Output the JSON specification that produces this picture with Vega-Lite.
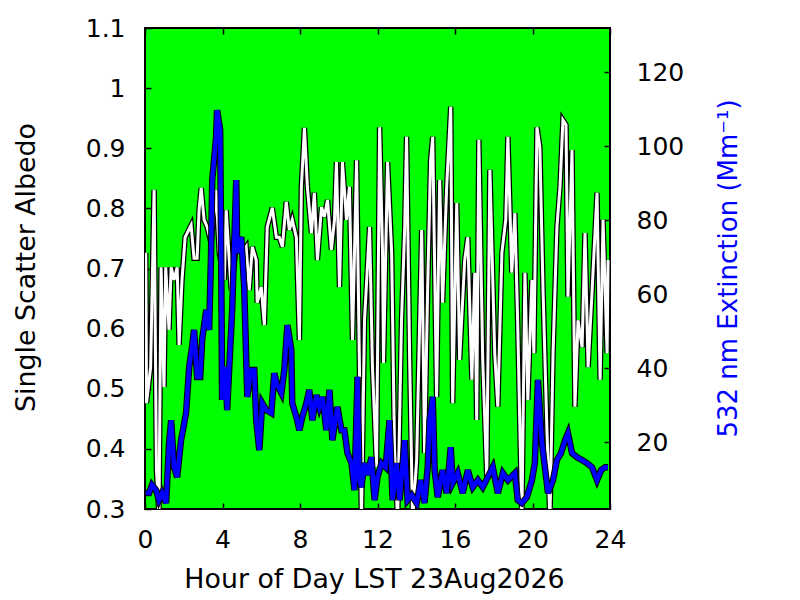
{
  "$schema": "https://vega.github.io/schema/vega-lite/v6.json",
  "autosize": "none",
  "width": 465,
  "height": 481,
  "padding": {"left": 145, "top": 28, "right": 190, "bottom": 91},
  "background": "white",
  "config": {
    "font": "DejaVu Sans",
    "view": {"fill": "#00ff00", "stroke": "black", "strokeWidth": 2},
    "axis": {
      "grid": false,
      "domain": false,
      "tickColor": "black",
      "tickWidth": 1.5,
      "tickSize": -6,
      "labelFont": "DejaVu Sans",
      "labelFontSize": 25,
      "labelColor": "black",
      "titleFont": "DejaVu Sans",
      "titleFontSize": 26.8,
      "titleFontWeight": "normal",
      "titleColor": "black"
    }
  },
  "datasets": {
    "alb": [
      {"hour": 0.04, "albedo": 0.726}, {"hour": 0.08, "albedo": 0.476}, {"hour": 0.29, "albedo": 0.536},
      {"hour": 0.47, "albedo": 0.831}, {"hour": 0.59, "albedo": 0.365}, {"hour": 0.72, "albedo": 0.29},
      {"hour": 0.83, "albedo": 0.702}, {"hour": 0.98, "albedo": 0.503}, {"hour": 1.07, "albedo": 0.702},
      {"hour": 1.24, "albedo": 0.598}, {"hour": 1.35, "albedo": 0.702}, {"hour": 1.5, "albedo": 0.681},
      {"hour": 1.66, "albedo": 0.702}, {"hour": 1.76, "albedo": 0.573}, {"hour": 1.91, "albedo": 0.681},
      {"hour": 2.07, "albedo": 0.752}, {"hour": 2.38, "albedo": 0.772}, {"hour": 2.53, "albedo": 0.717},
      {"hour": 2.69, "albedo": 0.717}, {"hour": 2.79, "albedo": 0.797}, {"hour": 2.9, "albedo": 0.834},
      {"hour": 3.05, "albedo": 0.781}, {"hour": 3.21, "albedo": 0.769}, {"hour": 3.41, "albedo": 0.742},
      {"hour": 3.67, "albedo": 0.831}, {"hour": 3.83, "albedo": 0.726}, {"hour": 4.09, "albedo": 0.681},
      {"hour": 4.19, "albedo": 0.797}, {"hour": 4.35, "albedo": 0.714}, {"hour": 4.45, "albedo": 0.664},
      {"hour": 4.71, "albedo": 0.736}, {"hour": 4.86, "albedo": 0.752}, {"hour": 5.02, "albedo": 0.726},
      {"hour": 5.22, "albedo": 0.736}, {"hour": 5.38, "albedo": 0.664}, {"hour": 5.54, "albedo": 0.736},
      {"hour": 5.74, "albedo": 0.714}, {"hour": 5.79, "albedo": 0.643}, {"hour": 6.0, "albedo": 0.669},
      {"hour": 6.16, "albedo": 0.606}, {"hour": 6.31, "albedo": 0.769}, {"hour": 6.57, "albedo": 0.801},
      {"hour": 6.78, "albedo": 0.752}, {"hour": 6.93, "albedo": 0.752}, {"hour": 7.09, "albedo": 0.736},
      {"hour": 7.29, "albedo": 0.811}, {"hour": 7.45, "albedo": 0.764}, {"hour": 7.6, "albedo": 0.781},
      {"hour": 7.81, "albedo": 0.752}, {"hour": 7.97, "albedo": 0.581}, {"hour": 8.07, "albedo": 0.836},
      {"hour": 8.23, "albedo": 0.934}, {"hour": 8.38, "albedo": 0.836}, {"hour": 8.59, "albedo": 0.759},
      {"hour": 8.74, "albedo": 0.826}, {"hour": 8.9, "albedo": 0.714}, {"hour": 9.11, "albedo": 0.802},
      {"hour": 9.26, "albedo": 0.786}, {"hour": 9.42, "albedo": 0.814}, {"hour": 9.62, "albedo": 0.731},
      {"hour": 9.78, "albedo": 0.781}, {"hour": 9.88, "albedo": 0.877}, {"hour": 10.04, "albedo": 0.669},
      {"hour": 10.19, "albedo": 0.877}, {"hour": 10.4, "albedo": 0.781}, {"hour": 10.55, "albedo": 0.836},
      {"hour": 10.71, "albedo": 0.581}, {"hour": 10.92, "albedo": 0.88}, {"hour": 11.07, "albedo": 0.531},
      {"hour": 11.17, "albedo": 0.28}, {"hour": 11.33, "albedo": 0.614}, {"hour": 11.59, "albedo": 0.769},
      {"hour": 11.74, "albedo": 0.536}, {"hour": 11.95, "albedo": 0.37}, {"hour": 12.11, "albedo": 0.935},
      {"hour": 12.26, "albedo": 0.726}, {"hour": 12.31, "albedo": 0.543}, {"hour": 12.52, "albedo": 0.877},
      {"hour": 12.73, "albedo": 0.726}, {"hour": 12.88, "albedo": 0.398}, {"hour": 13.04, "albedo": 0.28},
      {"hour": 13.24, "albedo": 0.614}, {"hour": 13.4, "albedo": 0.764}, {"hour": 13.5, "albedo": 0.919},
      {"hour": 13.66, "albedo": 0.548}, {"hour": 13.81, "albedo": 0.28}, {"hour": 14.02, "albedo": 0.381},
      {"hour": 14.28, "albedo": 0.764}, {"hour": 14.43, "albedo": 0.393}, {"hour": 14.59, "albedo": 0.669},
      {"hour": 14.74, "albedo": 0.88}, {"hour": 14.85, "albedo": 0.919}, {"hour": 15.05, "albedo": 0.486},
      {"hour": 15.21, "albedo": 0.847}, {"hour": 15.36, "albedo": 0.643}, {"hour": 15.57, "albedo": 0.836},
      {"hour": 15.78, "albedo": 0.969}, {"hour": 15.88, "albedo": 0.476}, {"hour": 16.09, "albedo": 0.809},
      {"hour": 16.24, "albedo": 0.548}, {"hour": 16.5, "albedo": 0.714}, {"hour": 16.66, "albedo": 0.752},
      {"hour": 16.87, "albedo": 0.515}, {"hour": 17.02, "albedo": 0.693}, {"hour": 17.12, "albedo": 0.448},
      {"hour": 17.23, "albedo": 0.914}, {"hour": 17.43, "albedo": 0.548}, {"hour": 17.64, "albedo": 0.353},
      {"hour": 17.8, "albedo": 0.864}, {"hour": 18.05, "albedo": 0.559}, {"hour": 18.21, "albedo": 0.47},
      {"hour": 18.42, "albedo": 0.726}, {"hour": 18.62, "albedo": 0.781}, {"hour": 18.73, "albedo": 0.919},
      {"hour": 18.93, "albedo": 0.693}, {"hour": 19.09, "albedo": 0.792}, {"hour": 19.24, "albedo": 0.603},
      {"hour": 19.45, "albedo": 0.28}, {"hour": 19.61, "albedo": 0.693}, {"hour": 19.76, "albedo": 0.481},
      {"hour": 19.97, "albedo": 0.681}, {"hour": 20.07, "albedo": 0.559}, {"hour": 20.23, "albedo": 0.935},
      {"hour": 20.38, "albedo": 0.902}, {"hour": 20.54, "albedo": 0.669}, {"hour": 20.74, "albedo": 0.436},
      {"hour": 20.9, "albedo": 0.28}, {"hour": 21.06, "albedo": 0.559}, {"hour": 21.26, "albedo": 0.769},
      {"hour": 21.42, "albedo": 0.836}, {"hour": 21.57, "albedo": 0.947}, {"hour": 21.73, "albedo": 0.939},
      {"hour": 21.83, "albedo": 0.653}, {"hour": 22.04, "albedo": 0.897}, {"hour": 22.19, "albedo": 0.47},
      {"hour": 22.35, "albedo": 0.614}, {"hour": 22.56, "albedo": 0.569}, {"hour": 22.71, "albedo": 0.759},
      {"hour": 22.87, "albedo": 0.536}, {"hour": 23.07, "albedo": 0.659}, {"hour": 23.33, "albedo": 0.826},
      {"hour": 23.49, "albedo": 0.515}, {"hour": 23.64, "albedo": 0.781}, {"hour": 23.85, "albedo": 0.559},
      {"hour": 23.9, "albedo": 0.714}
    ],
    "ext": [
      {"hour": 0.05, "ext": 6.2}, {"hour": 0.21, "ext": 6.2}, {"hour": 0.36, "ext": 8.4}, {"hour": 0.57, "ext": 7.0},
      {"hour": 0.72, "ext": 4.3}, {"hour": 0.88, "ext": 6.2}, {"hour": 1.09, "ext": 3.5}, {"hour": 1.24, "ext": 19.7},
      {"hour": 1.35, "ext": 25.9}, {"hour": 1.5, "ext": 13.2}, {"hour": 1.66, "ext": 10.5}, {"hour": 1.86, "ext": 20.5},
      {"hour": 2.12, "ext": 27.8}, {"hour": 2.28, "ext": 40.3}, {"hour": 2.43, "ext": 45.7}, {"hour": 2.53, "ext": 50.3},
      {"hour": 2.69, "ext": 37.6}, {"hour": 2.85, "ext": 37.6}, {"hour": 2.95, "ext": 47.6}, {"hour": 3.16, "ext": 55.7},
      {"hour": 3.31, "ext": 50.3}, {"hour": 3.41, "ext": 71.1}, {"hour": 3.47, "ext": 90.8}, {"hour": 3.67, "ext": 102.4},
      {"hour": 3.72, "ext": 109.7}, {"hour": 3.88, "ext": 104.3}, {"hour": 3.93, "ext": 71.1}, {"hour": 3.98, "ext": 31.4},
      {"hour": 4.14, "ext": 40.3}, {"hour": 4.24, "ext": 28.6}, {"hour": 4.35, "ext": 40.3}, {"hour": 4.5, "ext": 55.7},
      {"hour": 4.71, "ext": 90.8}, {"hour": 4.76, "ext": 71.1}, {"hour": 4.97, "ext": 75.4}, {"hour": 5.12, "ext": 61.9},
      {"hour": 5.28, "ext": 32.2}, {"hour": 5.48, "ext": 39.5}, {"hour": 5.64, "ext": 39.5}, {"hour": 5.74, "ext": 25.9},
      {"hour": 5.9, "ext": 17.8}, {"hour": 6.05, "ext": 30.5}, {"hour": 6.26, "ext": 28.6}, {"hour": 6.52, "ext": 27.8},
      {"hour": 6.67, "ext": 38.6}, {"hour": 6.83, "ext": 35.4}, {"hour": 7.04, "ext": 33.2}, {"hour": 7.19, "ext": 39.5},
      {"hour": 7.35, "ext": 51.6}, {"hour": 7.55, "ext": 44.9}, {"hour": 7.6, "ext": 30.5}, {"hour": 7.81, "ext": 26.8},
      {"hour": 7.97, "ext": 23.2}, {"hour": 8.12, "ext": 26.8}, {"hour": 8.33, "ext": 30.5}, {"hour": 8.48, "ext": 34.1},
      {"hour": 8.64, "ext": 25.9}, {"hour": 8.85, "ext": 32.7}, {"hour": 9.0, "ext": 29.5}, {"hour": 9.16, "ext": 32.2},
      {"hour": 9.36, "ext": 23.2}, {"hour": 9.52, "ext": 34.1}, {"hour": 9.67, "ext": 20.5}, {"hour": 9.93, "ext": 29.5},
      {"hour": 10.14, "ext": 23.2}, {"hour": 10.29, "ext": 23.2}, {"hour": 10.45, "ext": 17.0}, {"hour": 10.66, "ext": 14.3},
      {"hour": 10.81, "ext": 7.0}, {"hour": 10.97, "ext": 37.6}, {"hour": 11.07, "ext": 9.7}, {"hour": 11.17, "ext": 7.8},
      {"hour": 11.33, "ext": 14.3}, {"hour": 11.48, "ext": 11.1}, {"hour": 11.69, "ext": 15.9}, {"hour": 11.85, "ext": 4.3},
      {"hour": 12.0, "ext": 10.5}, {"hour": 12.21, "ext": 14.3}, {"hour": 12.42, "ext": 13.2}, {"hour": 12.62, "ext": 25.9},
      {"hour": 12.78, "ext": 4.3}, {"hour": 12.98, "ext": 14.3}, {"hour": 13.14, "ext": 4.3}, {"hour": 13.4, "ext": 20.5},
      {"hour": 13.55, "ext": 4.3}, {"hour": 13.76, "ext": 5.7}, {"hour": 14.02, "ext": 3.5}, {"hour": 14.23, "ext": 9.7},
      {"hour": 14.43, "ext": 3.5}, {"hour": 14.59, "ext": 13.2}, {"hour": 14.69, "ext": 25.9}, {"hour": 14.85, "ext": 32.2},
      {"hour": 14.95, "ext": 12.4}, {"hour": 15.11, "ext": 5.1}, {"hour": 15.36, "ext": 12.4}, {"hour": 15.57, "ext": 6.2},
      {"hour": 15.78, "ext": 18.6}, {"hour": 15.88, "ext": 8.9}, {"hour": 16.14, "ext": 11.6}, {"hour": 16.4, "ext": 6.2},
      {"hour": 16.66, "ext": 12.4}, {"hour": 16.92, "ext": 7.8}, {"hour": 17.18, "ext": 9.7}, {"hour": 17.43, "ext": 7.8},
      {"hour": 17.69, "ext": 10.5}, {"hour": 17.95, "ext": 13.2}, {"hour": 18.21, "ext": 6.2}, {"hour": 18.47, "ext": 11.6},
      {"hour": 18.73, "ext": 9.7}, {"hour": 19.09, "ext": 11.6}, {"hour": 19.24, "ext": 4.3}, {"hour": 19.45, "ext": 3.5},
      {"hour": 19.71, "ext": 5.1}, {"hour": 19.97, "ext": 9.7}, {"hour": 20.12, "ext": 14.3}, {"hour": 20.28, "ext": 36.8},
      {"hour": 20.49, "ext": 19.7}, {"hour": 20.64, "ext": 13.2}, {"hour": 20.8, "ext": 6.2}, {"hour": 21.06, "ext": 9.7},
      {"hour": 21.26, "ext": 15.1}, {"hour": 21.47, "ext": 17.0}, {"hour": 21.68, "ext": 20.5}, {"hour": 21.83, "ext": 22.4},
      {"hour": 22.04, "ext": 17.0}, {"hour": 22.3, "ext": 15.9}, {"hour": 22.56, "ext": 15.1}, {"hour": 22.81, "ext": 14.3},
      {"hour": 23.07, "ext": 13.2}, {"hour": 23.33, "ext": 9.7}, {"hour": 23.54, "ext": 12.4}, {"hour": 23.75, "ext": 13.2},
      {"hour": 23.9, "ext": 13.2}
    ]
  },
  "layer": [
    {
      "data": {"name": "alb"},
      "encoding": {
        "x": {
          "field": "hour", "type": "quantitative",
          "scale": {"domain": [0, 24], "nice": false, "zero": false},
          "axis": {
            "orient": "bottom",
            "values": [0, 4, 8, 12, 16, 20, 24],
            "format": "d",
            "labelPadding": 24,
            "labelFlush": false,
            "title": "Hour of Day LST 23Aug2026",
            "titleBaseline": "alphabetic",
            "titleX": 229,
            "titleY": 78
          }
        },
        "y": {
          "field": "albedo", "type": "quantitative",
          "scale": {"domain": [0.3, 1.1], "nice": false, "zero": false},
          "axis": {
            "orient": "left",
            "values": [0.3, 0.4, 0.5, 0.6, 0.7, 0.8, 0.9, 1, 1.1],
            "format": ".1~f",
            "labelPadding": 26,
            "labelFlush": false,
            "title": "Single Scatter Albedo",
            "titleAngle": -90,
            "titleBaseline": "middle",
            "titleAlign": "center",
            "titleX": -119,
            "titleY": 239
          }
        }
      },
      "layer": [
        {"mark": {"type": "line", "color": "black", "strokeWidth": 5.5, "clip": true}},
        {"mark": {"type": "line", "color": "white", "strokeWidth": 3, "clip": true}}
      ]
    },
    {
      "data": {"name": "ext"},
      "encoding": {
        "x": {
          "field": "hour", "type": "quantitative",
          "scale": {"domain": [0, 24], "nice": false, "zero": false},
          "axis": {
            "orient": "top",
            "values": [0, 4, 8, 12, 16, 20, 24],
            "labels": false,
            "title": null
          }
        },
        "y": {
          "field": "ext", "type": "quantitative",
          "scale": {"domain": [1.9, 131.9], "nice": false, "zero": false},
          "axis": {
            "orient": "right",
            "values": [20, 40, 60, 80, 100, 120],
            "format": "d",
            "labelPadding": 32,
            "labelFlush": false,
            "title": "532 nm Extinction (Mm⁻¹)",
            "titleColor": "#0000ff",
            "titleFontSize": 26,
            "titleAngle": -90,
            "titleBaseline": "middle",
            "titleAlign": "center",
            "titleX": 118,
            "titleY": 240
          }
        }
      },
      "layer": [
        {"mark": {"type": "line", "color": "black", "strokeWidth": 6.5, "clip": true}},
        {"mark": {"type": "line", "color": "#0000ff", "strokeWidth": 4.5, "clip": true}}
      ]
    }
  ],
  "resolve": {"scale": {"y": "independent"}, "axis": {"x": "independent"}}
}
